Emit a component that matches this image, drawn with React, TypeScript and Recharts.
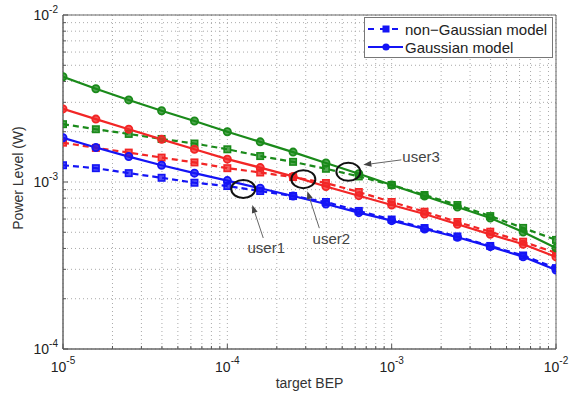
import React from "react";
import {
  LineChart,
  Line,
  XAxis,
  YAxis,
  CartesianGrid,
  ReferenceArea,
  ReferenceDot,
} from "recharts";

// target BEP (x), 5 points per decade
const bep = [
  1e-5, 1.585e-5, 2.512e-5, 3.981e-5, 6.31e-5,
  1e-4, 1.585e-4, 2.512e-4, 3.981e-4, 6.31e-4,
  1e-3, 1.585e-3, 2.512e-3, 3.981e-3, 6.31e-3,
  1e-2,
];

// Gaussian model (solid, circles)
const blueG = [1.84e-3, 1.61e-3, 1.42e-3, 1.26e-3, 1.13e-3, 1.02e-3, 9.17e-4, 8.24e-4, 7.38e-4, 6.55e-4, 5.87e-4, 5.23e-4, 4.67e-4, 4.1e-4, 3.57e-4, 2.97e-4];
const redG = [2.74e-3, 2.38e-3, 2.07e-3, 1.8e-3, 1.57e-3, 1.37e-3, 1.22e-3, 1.08e-3, 9.4e-4, 8.28e-4, 7.28e-4, 6.43e-4, 5.58e-4, 4.86e-4, 4.24e-4, 3.56e-4];
const greenG = [4.27e-3, 3.62e-3, 3.1e-3, 2.67e-3, 2.32e-3, 2.0e-3, 1.74e-3, 1.51e-3, 1.3e-3, 1.12e-3, 9.6e-4, 8.24e-4, 7.08e-4, 6.09e-4, 5.02e-4, 4.03e-4];

// non-Gaussian model (dashed, squares)
const blueN = [1.26e-3, 1.21e-3, 1.13e-3, 1.06e-3, 9.9e-4, 9.46e-4, 8.83e-4, 8.24e-4, 7.59e-4, 6.71e-4, 5.96e-4, 5.3e-4, 4.72e-4, 4.14e-4, 3.63e-4, 3.05e-4];
const redN = [1.72e-3, 1.6e-3, 1.5e-3, 1.4e-3, 1.31e-3, 1.21e-3, 1.14e-3, 1.07e-3, 9.86e-4, 8.71e-4, 7.59e-4, 6.64e-4, 5.76e-4, 5.04e-4, 4.39e-4, 3.76e-4];
const greenN = [2.22e-3, 2.07e-3, 1.94e-3, 1.81e-3, 1.7e-3, 1.57e-3, 1.43e-3, 1.32e-3, 1.2e-3, 1.08e-3, 9.6e-4, 8.36e-4, 7.28e-4, 6.25e-4, 5.31e-4, 4.5e-4];

// log grid ticks
const xTicks = [
  1e-5, 2e-5, 3e-5, 4e-5, 5e-5, 6e-5, 7e-5, 8e-5, 9e-5,
  1e-4, 2e-4, 3e-4, 4e-4, 5e-4, 6e-4, 7e-4, 8e-4, 9e-4,
  1e-3, 2e-3, 3e-3, 4e-3, 5e-3, 6e-3, 7e-3, 8e-3, 9e-3,
  1e-2,
];
const yTicks = [
  1e-4, 2e-4, 3e-4, 4e-4, 5e-4, 6e-4, 7e-4, 8e-4, 9e-4,
  1e-3, 2e-3, 3e-3, 4e-3, 5e-3, 6e-3, 7e-3, 8e-3, 9e-3,
  1e-2,
];

// annotated crossings: label, centre, arrow tip/tail offsets, text offset
const users = [
  { name: "user1", x: 1.25e-4, y: 9.08e-4, tip: [9, 16], tail: [20, 49], text: [23, 64], anchor: "middle" },
  { name: "user2", x: 2.9e-4, y: 1.04e-3, tip: [4, 12], tail: [16, 49], text: [28, 65], anchor: "middle" },
  { name: "user3", x: 5.45e-4, y: 1.15e-3, tip: [15, -7], tail: [53, -12], text: [54, -10], anchor: "start" },
];

const BLUE = "#1414f5";
const RED = "#f22626";
const GREEN = "#1a8a1a";
const FONT = "'Liberation Sans', Arial, Helvetica, sans-serif";

const data = bep.map((x, i) => ({
  bep: x,
  blueG: blueG[i],
  redG: redG[i],
  greenG: greenG[i],
  blueN: blueN[i],
  redN: redN[i],
  greenN: greenN[i],
}));

const isDecade = (v: number) => Math.abs(Math.log10(v) - Math.round(Math.log10(v))) < 1e-6;
const expOf = (v: number) => String(Math.round(Math.log10(v)));

const XTick = (props: any) => {
  const { x, y, payload } = props;
  const v = payload.value;
  const major = isDecade(v);
  return (
    <g>
      <line x1={x} x2={x} y1={y - 5} y2={y - 5 - (major ? 5 : 3)} stroke="#555" />
      {major && (
        <text x={x} y={y + 18} textAnchor="middle" fontSize={14} fill="#222" fontFamily={FONT}>
          <tspan>10</tspan>
          <tspan dy={-8} fontSize={10}>{expOf(v)}</tspan>
        </text>
      )}
    </g>
  );
};

const YTick = (props: any) => {
  const { x, y, payload } = props;
  const v = payload.value;
  const major = isDecade(v);
  return (
    <g>
      <line x1={x + 5} x2={x + 5 + (major ? 5 : 3)} y1={y} y2={y} stroke="#555" />
      {major && (
        <text x={x} y={y + 5} textAnchor="end" fontSize={14} fill="#222" fontFamily={FONT}>
          <tspan>10</tspan>
          <tspan dy={-7} fontSize={10}>{expOf(v)}</tspan>
        </text>
      )}
    </g>
  );
};

const circleDot = (color: string) => (p: any) => (
  <circle
    key={`c-${p.index}`}
    cx={p.cx}
    cy={p.cy}
    r={3.6}
    fill={color}
    fillOpacity={0.75}
    stroke={color}
    strokeWidth={1.8}
    strokeDasharray="none"
  />
);

const squareDot = (color: string) => (p: any) => (
  <rect
    key={`s-${p.index}`}
    x={p.cx - 3.2}
    y={p.cy - 3.2}
    width={6.4}
    height={6.4}
    fill={color}
    fillOpacity={0.75}
    stroke={color}
    strokeWidth={1.6}
    strokeDasharray="none"
  />
);

const Arrow = ({ x1, y1, x2, y2 }: any) => {
  const dx = x2 - x1;
  const dy = y2 - y1;
  const len = Math.sqrt(dx * dx + dy * dy);
  const ux = dx / len;
  const uy = dy / len;
  const bx = x2 - ux * 8;
  const by = y2 - uy * 8;
  const pts = `${x2},${y2} ${bx - uy * 3},${by + ux * 3} ${bx + uy * 3},${by - ux * 3}`;
  return (
    <g>
      <line x1={x1} y1={y1} x2={bx} y2={by} stroke="#666" strokeWidth={1} />
      <polygon points={pts} fill="#444" />
    </g>
  );
};

const userShape = (u: any) => (p: any) => {
  const { cx, cy } = p;
  return (
    <g>
      <ellipse cx={cx} cy={cy} rx={12} ry={9} fill="none" stroke="#111" strokeWidth={2} />
      <Arrow x1={cx + u.tail[0]} y1={cy + u.tail[1]} x2={cx + u.tip[0]} y2={cy + u.tip[1]} />
      <text
        x={cx + u.text[0]}
        y={cy + u.text[1]}
        textAnchor={u.anchor}
        fontSize={15}
        fill="#444"
        fontFamily={FONT}
      >
        {u.name}
      </text>
    </g>
  );
};

const YLabel = (props: any) => {
  const vb = props.viewBox;
  const cx = vb.x + 18;
  const cy = vb.y + vb.height / 2 - 4;
  return (
    <text
      x={cx}
      y={cy}
      transform={`rotate(-90 ${cx} ${cy})`}
      textAnchor="middle"
      dominantBaseline="central"
      fontSize={14}
      fill="#333"
      fontFamily={FONT}
    >
      Power Level (W)
    </text>
  );
};

const LegendBox = () => (
  <div
    style={{
      position: "absolute",
      left: 364,
      top: 17,
      width: 189,
      height: 41,
      boxSizing: "border-box",
      border: "1px solid #777",
      background: "#fff",
      fontFamily: FONT,
      fontSize: 15,
      color: "#222",
    }}
  >
    <div style={{ display: "flex", alignItems: "center", height: 18, marginTop: 2 }}>
      <svg width={38} height={12} style={{ marginLeft: 2 }}>
        <line x1={1} x2={36} y1={6} y2={6} stroke={BLUE} strokeWidth={2} strokeDasharray="6 6" />
        <rect x={15.5} y={2.5} width={7} height={7} fill={BLUE} />
      </svg>
      <span style={{ whiteSpace: "nowrap" }}>non−Gaussian model</span>
    </div>
    <div style={{ display: "flex", alignItems: "center", height: 18 }}>
      <svg width={38} height={12} style={{ marginLeft: 2 }}>
        <line x1={1} x2={36} y1={6} y2={6} stroke={BLUE} strokeWidth={2} />
        <circle cx={19} cy={6} r={3.6} fill={BLUE} />
      </svg>
      <span style={{ whiteSpace: "nowrap" }}>Gaussian model</span>
    </div>
  </div>
);

export default function App() {
  return (
    <div style={{ position: "absolute", left: 0, top: 0, width: 584, height: 394, background: "#fff" }}>
      <LineChart
        width={584}
        height={394}
        data={data}
        margin={{ top: 15, right: 28, bottom: 0, left: 0 }}
      >
        <CartesianGrid stroke="#aaaaaa" strokeDasharray="1 3" />
        <XAxis
          dataKey="bep"
          type="number"
          scale="log"
          domain={[1e-5, 1e-2]}
          ticks={xTicks}
          allowDataOverflow
          height={45}
          tickSize={5}
          tickMargin={0}
          tickLine={false}
          axisLine={{ stroke: "#666" }}
          tick={<XTick />}
          interval={0}
          label={{
            value: "target BEP",
            position: "insideBottom",
            offset: 6,
            fontSize: 14,
            fill: "#333",
            fontFamily: FONT,
          }}
        />
        <YAxis
          type="number"
          scale="log"
          domain={[1e-4, 1e-2]}
          ticks={yTicks}
          allowDataOverflow
          width={63}
          tickSize={5}
          tickMargin={0}
          tickLine={false}
          axisLine={{ stroke: "#666" }}
          tick={<YTick />}
          interval={0}
          label={<YLabel />}
        />
        <ReferenceArea x1={1e-5} x2={1e-2} y1={1e-4} y2={1e-2} fill="none" stroke="#666" strokeWidth={1} />

        <Line dataKey="blueN" stroke={BLUE} strokeWidth={2.2} strokeDasharray="6 4" dot={squareDot(BLUE)} isAnimationActive={false} />
        <Line dataKey="redN" stroke={RED} strokeWidth={2.2} strokeDasharray="6 4" dot={squareDot(RED)} isAnimationActive={false} />
        <Line dataKey="greenN" stroke={GREEN} strokeWidth={2.2} strokeDasharray="6 4" dot={squareDot(GREEN)} isAnimationActive={false} />
        <Line dataKey="blueG" stroke={BLUE} strokeWidth={2.2} dot={circleDot(BLUE)} isAnimationActive={false} />
        <Line dataKey="redG" stroke={RED} strokeWidth={2.2} dot={circleDot(RED)} isAnimationActive={false} />
        <Line dataKey="greenG" stroke={GREEN} strokeWidth={2.2} dot={circleDot(GREEN)} isAnimationActive={false} />

        {users.map((u) => (
          <ReferenceDot key={u.name} x={u.x} y={u.y} r={12} shape={userShape(u)} />
        ))}
      </LineChart>
      <LegendBox />
    </div>
  );
}
